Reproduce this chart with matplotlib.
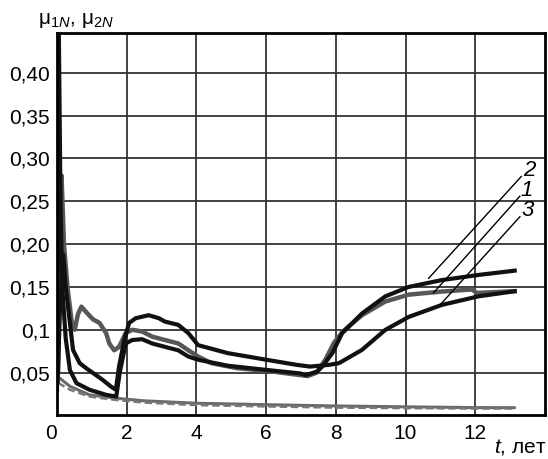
import matplotlib.pyplot as plt

plt.rcParams["font.family"] = ["Liberation Sans", "DejaVu Sans"]
plt.rcParams["mathtext.fontset"] = "custom"
plt.rcParams["mathtext.rm"] = "Liberation Sans"
plt.rcParams["mathtext.it"] = "Liberation Sans:italic"

# curve 1 (gray)
t1 = [0.03, 0.13, 0.2, 0.3, 0.42, 0.51, 0.6, 0.7, 0.85, 1.04, 1.22, 1.41, 1.5, 1.64, 1.78,
      1.97, 2.16, 2.44, 2.73, 3.1, 3.48, 3.77, 4.05, 4.43, 5.18, 6.03, 6.98, 7.2, 7.45,
      7.7, 7.95, 8.2, 8.75, 9.42, 10.09, 11.04, 11.9, 12.05, 13.13]
y1 = [0.05, 0.28, 0.2, 0.15, 0.11, 0.1, 0.118, 0.127, 0.12, 0.112, 0.108, 0.096, 0.084, 0.076, 0.08,
      0.096, 0.1, 0.098, 0.092, 0.088, 0.084, 0.076, 0.0687, 0.061, 0.055, 0.052, 0.047, 0.046, 0.05,
      0.065, 0.085, 0.098, 0.117, 0.133, 0.141, 0.1446, 0.147, 0.143, 0.145]

# curve 2 (black, highest at the end)
t2 = [0.0, 0.05, 0.1, 0.15, 0.25, 0.37, 0.56, 0.93, 1.41, 1.7, 1.8, 1.97, 2.16, 2.44, 2.73,
      3.1, 3.48, 3.77, 4.05, 4.9, 6.03, 6.98, 7.13, 7.45, 7.61, 7.9, 8.18, 8.75, 9.42,
      10.09, 11.04, 12.09, 13.13]
y2 = [0.03, 0.46, 0.25, 0.15, 0.09, 0.053, 0.0376, 0.03, 0.024, 0.022, 0.05, 0.084, 0.088, 0.089, 0.084,
      0.08, 0.076, 0.0687, 0.065, 0.058, 0.053, 0.049, 0.047, 0.051, 0.057, 0.0727, 0.096, 0.119, 0.139,
      0.15, 0.158, 0.164, 0.169]

# curve 3 (black, slow rise)
t3 = [0.02, 0.08, 0.18, 0.25, 0.37, 0.46, 0.65, 0.84, 1.12, 1.31, 1.55, 1.69, 1.78, 1.93, 2.07,
      2.26, 2.63, 2.92, 3.1, 3.48, 3.77, 4.05, 4.9, 6.03, 6.88, 7.26, 7.8, 8.09, 8.75, 9.42,
      10.09, 11.04, 12.09, 13.13]
y3 = [0.04, 0.12, 0.188, 0.15, 0.108, 0.0765, 0.061, 0.055, 0.047, 0.0415, 0.0336, 0.03, 0.057, 0.088, 0.108,
      0.1135, 0.117, 0.1135, 0.1095, 0.1057, 0.096, 0.082, 0.0727, 0.0648, 0.059, 0.057, 0.059, 0.061, 0.0765, 0.0999,
      0.115, 0.129, 0.139, 0.145]

# lower curves
t_low = [0.03, 0.37, 0.93, 1.7, 2.5, 4.0, 6.0, 8.0, 10.0, 12.0, 13.13]
y_solid = [0.045, 0.034, 0.024, 0.02, 0.017, 0.0142, 0.0125, 0.011, 0.01, 0.0091, 0.009]
y_dash = [0.038, 0.03, 0.022, 0.018, 0.015, 0.012, 0.0105, 0.0091, 0.0085, 0.008, 0.008]

xticks = [0, 2, 4, 6, 8, 10, 12]
yticks = [0.05, 0.10, 0.15, 0.20, 0.25, 0.30, 0.35, 0.40]
ylabels = ["0,05", "0,1", "0,15", "0,20", "0,25", "0,30", "0,35", "0,40"]

# curve labels: (name, line start, line end, text position)
labels = [
    ("2", (10.66, 0.160), (13.32, 0.279), (13.56, 0.286)),
    ("1", (10.8, 0.143), (13.28, 0.256), (13.47, 0.263)),
    ("3", (10.99, 0.129), (13.28, 0.232), (13.51, 0.239)),
]

fig = plt.figure(figsize=(5.48, 4.59), dpi=100)
ax = fig.add_axes([0.104, 0.095, 0.8905, 0.834])

ax.plot(t_low, y_solid, color="#6a6a6a", lw=2.2, solid_capstyle="round")
ax.plot(t_low, y_dash, color="#777777", lw=1.8, linestyle=(0, (3, 1.5)))
ax.plot(t1, y1, color="#575757", lw=3.2)
ax.plot(t2, y2, color="#111111", lw=3.0)
ax.plot(t3, y3, color="#111111", lw=3.0)

for name, p0, p1, pt in labels:
    ax.plot([p0[0], p1[0]], [p0[1], p1[1]], color="black", lw=1.0)
    ax.text(pt[0], pt[1], name, fontsize=16, style="italic", ha="center", va="center")

ax.set_xlim(0, 14)
ax.set_ylim(0, 0.447)
ax.set_xticks(xticks)
ax.set_xticklabels([str(x) for x in xticks])
ax.set_yticks(yticks)
ax.set_yticklabels(ylabels)
ax.get_xticklabels()[0].set_horizontalalignment("right")
ax.tick_params(length=0, labelsize=15, pad=6)
ax.tick_params(axis="y", pad=5)
ax.grid(True, color="#333333", lw=1.3)
for s in ax.spines.values():
    s.set_linewidth(2.0)

fig.text(0.07, 0.955, r"μ$_{1\mathit{N}}$, μ$_{2\mathit{N}}$", fontsize=15, va="center")
fig.text(0.997, 0.005, r"$\mathit{t}$, лет", fontsize=15, ha="right", va="bottom")

fig.savefig("out.png", dpi=100)
